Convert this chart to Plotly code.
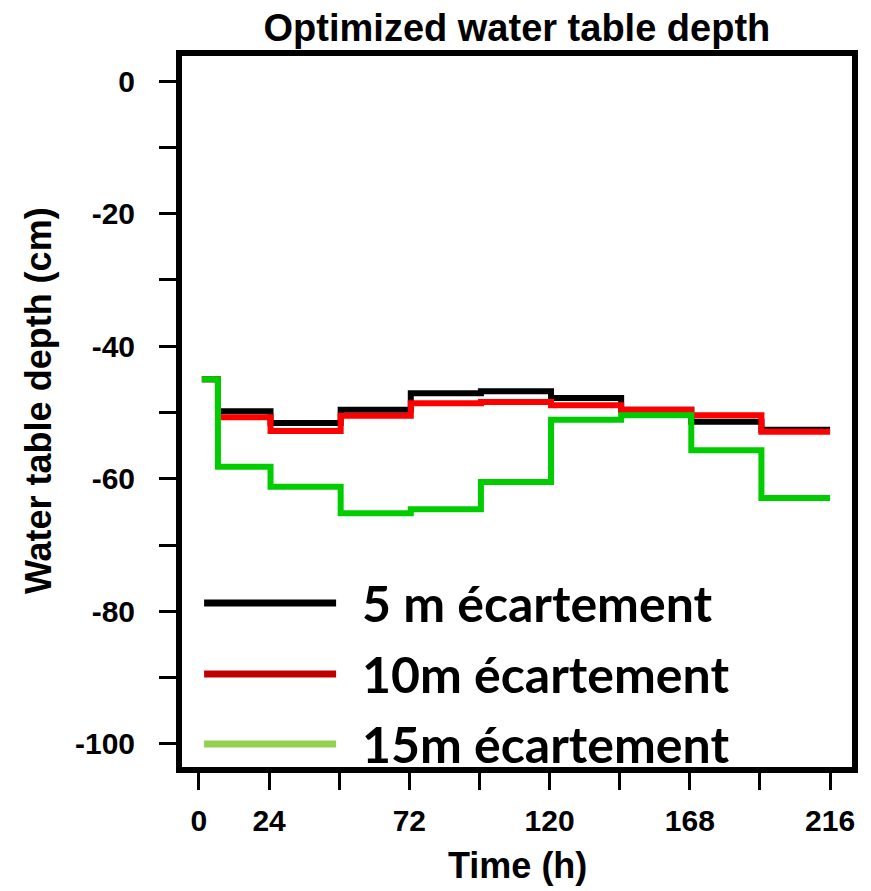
import plotly.graph_objects as go

# Step breakpoints (hours) and water table depth (cm) for each drain spacing
hours = [1, 6.5, 24.5, 48.5, 72.5, 96.5, 120.5, 144.5, 168.5, 192.5, 216]
depth_5m = [-45.0, -49.8, -51.6, -49.6, -47.1, -46.8, -47.8, -49.6, -51.4, -52.6, -52.6]
depth_10m = [-45.0, -50.7, -52.8, -50.5, -48.6, -48.4, -48.9, -49.6, -50.4, -52.9, -52.9]
depth_15m = [-45.0, -58.2, -61.2, -65.2, -64.6, -60.5, -51.1, -50.4, -55.7, -62.9, -62.9]

x_ticks = [0, 24, 48, 72, 96, 120, 144, 168, 192, 216]
x_ticktext = ["0", "24", "", "72", "", "120", "", "168", "", "216"]
y_ticks = [0, -10, -20, -30, -40, -50, -60, -70, -80, -90, -100]
y_ticktext = ["0", "", "-20", "", "-40", "", "-60", "", "-80", "", "-100"]

legend_labels = ["5 m écartement", "10m écartement", "15m écartement"]
legend_colors = ["#000000", "#C00000", "#92D050"]

series = [
    (depth_5m, "#000000"),
    (depth_10m, "#FF0000"),
    (depth_15m, "#00CD00"),
]

fig = go.Figure()
for vals, col in series:
    fig.add_trace(go.Scatter(
        x=hours, y=vals, mode="lines", line_shape="hv",
        line=dict(color=col, width=6), showlegend=False,
    ))

axis_font = dict(family="Liberation Sans", size=30, color="black", weight="bold")

fig.update_xaxes(
    range=[-5.8, 223.5], tickvals=x_ticks, ticktext=x_ticktext,
    ticks="outside", ticklen=17, tickwidth=3, tickcolor="black",
    showline=True, linewidth=6, linecolor="black", mirror=True,
    showgrid=False, zeroline=False, tickfont=axis_font, ticklabelstandoff=5,
)
fig.update_yaxes(
    range=[-103.47, 3.77], tickvals=y_ticks, ticktext=y_ticktext,
    ticks="outside", ticklen=17, tickwidth=3, tickcolor="black",
    showline=True, linewidth=6, linecolor="black", mirror=True,
    showgrid=False, zeroline=False, tickfont=axis_font, ticklabelstandoff=18,
)

title_font = dict(family="Liberation Sans", size=38, color="black", weight="bold")
label_font = dict(family="Liberation Sans", size=36, color="black", weight="bold")

annotations = [
    dict(text="Water table depth (cm)", textangle=-90, xref="paper", yref="paper",
         x=-0.215, y=0.516, xanchor="center", yanchor="middle", showarrow=False,
         font=label_font),
    dict(text="Time (h)", xref="paper", yref="paper",
         x=0.5, y=-0.139, xanchor="center", yanchor="middle", showarrow=False,
         font=label_font),
]

# Legend drawn as line samples with labels in the lower left of the panel
legend_y = [0.2307, 0.1308, 0.0323]
shapes = []
for lab, col, ly in zip(legend_labels, legend_colors, legend_y):
    shapes.append(dict(type="line", xref="paper", yref="paper",
                       x0=0.033, x1=0.230, y0=ly, y1=ly,
                       line=dict(color=col, width=7)))
    annotations.append(dict(text=lab, xref="paper", yref="paper",
                            x=0.266, y=ly, xanchor="left", yanchor="middle",
                            showarrow=False,
                            font=dict(family="Lato", size=50, color="black", weight="bold")))

fig.update_layout(
    width=871, height=891,
    margin=dict(l=182, r=19, t=56, b=124, pad=0),
    paper_bgcolor="white", plot_bgcolor="white",
    title=dict(text="Optimized water table depth", x=0.5935, xanchor="center",
               y=0.969, yanchor="middle", xref="container", yref="container",
               font=title_font),
    annotations=annotations, shapes=shapes,
)

fig.write_html("out.html")
